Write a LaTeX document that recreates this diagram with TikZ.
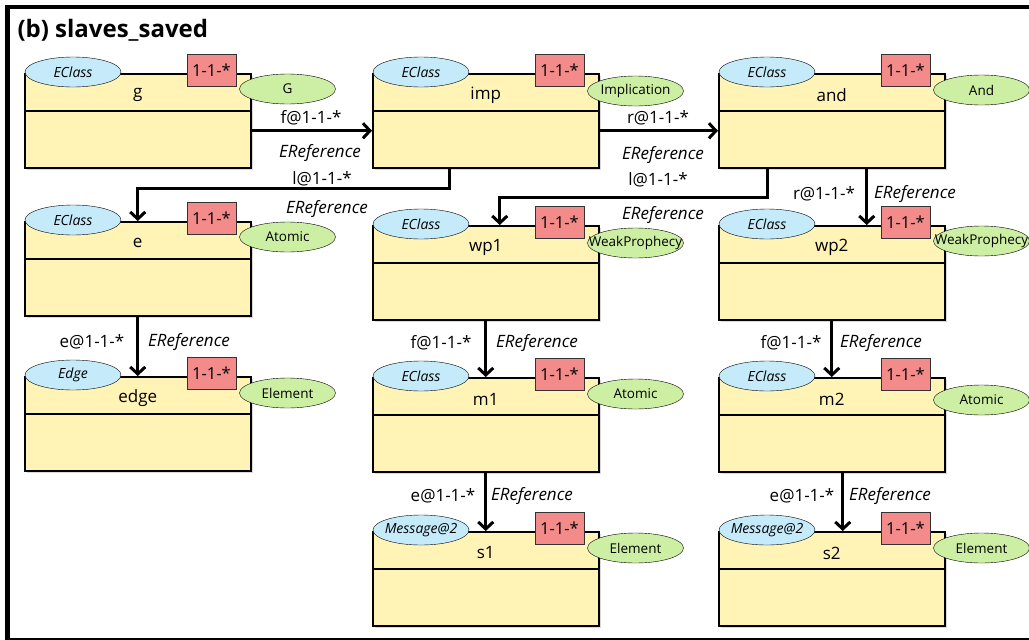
\documentclass[tikz,border=0pt]{standalone}
\usepackage{fontspec}
\setmainfont{Open Sans}
\usetikzlibrary{positioning, arrows.meta, calc, shapes.geometric, shadows}
\definecolor{boxfill}{HTML}{FFF3B5}
\definecolor{typefill}{HTML}{C5EBFB}
\definecolor{multfill}{HTML}{F28B89}
\definecolor{rolefill}{HTML}{CDEFA4}

% one class box: id, x, y, name, type, role, role offset
\newcommand{\eclassbox}[7]{%
  \node[cls] (#1) at (#2,#3) {};
  \draw[line width=1.5pt] ($(#1.north west)+(0,38)$) -- ($(#1.north east)+(0,38)$);
  \node[clsname] (#1-name) at ($(#1.north)+(0,22)$) {#4};
  \node[typetag] (#1-type) at ($(#1.north west)+(49,-1)$) {#5};
  \node[mult] (#1-mult) at ($(#1.north west)+(187.5,-3)$) {1-1-*};
  \node[roletag] (#1-role) at ($(#1.north east)+(36,#7)$) {#6};
}

\begin{document}
\begin{tikzpicture}[
    x=1pt, y=-1pt,
    cls/.style={rectangle, draw, line width=1.5pt, fill=boxfill, anchor=north west,
                minimum width=226pt, minimum height=94pt, inner sep=0pt,
                drop shadow={shadow xshift=2.5pt, shadow yshift=-2.5pt, fill=black!25, opacity=.6}},
    clsname/.style={font=\fontsize{17}{20}\selectfont},
    typetag/.style={ellipse, draw, fill=typefill, minimum width=96pt, minimum height=30pt,
                    inner xsep=-8pt, inner ysep=0pt, font=\fontsize{14}{16}\selectfont\itshape},
    mult/.style={rectangle, draw=black!80, fill=multfill, minimum width=49pt, minimum height=32pt,
                 inner sep=0pt, font=\fontsize{16.5}{18}\selectfont},
    roletag/.style={ellipse, draw, fill=rolefill, minimum width=96pt, minimum height=30pt,
                    inner xsep=-18pt, inner ysep=0pt, font=\fontsize{13.5}{15}\selectfont},
    ref/.style={line width=3pt, -{Straight Barb[length=7pt, width=15pt]}},
    lbl/.style={font=\fontsize{17}{20}\selectfont},
    reflbl/.style={font=\fontsize{17}{20}\selectfont\itshape}
  ]
    \useasboundingbox (0,0) rectangle (1029,640);
    \clip (0,0) rectangle (1029,640);
    \draw[line width=4.5pt] (7.5,7) rectangle (1040,640);
    \node[font=\fontsize{24}{28}\selectfont\bfseries, anchor=west] (title) at (14,30) {(b) slaves\_saved};

    \eclassbox{g}{24}{73}{g}{EClass}{G}{16}
    \eclassbox{imp}{372}{73}{imp}{EClass}{Implication}{18}
    \eclassbox{and}{718}{73}{and}{EClass}{And}{17}
    \eclassbox{e}{24}{221}{e}{EClass}{Atomic}{16}
    \eclassbox{wp1}{372}{225}{wp1}{EClass}{WeakProphecy}{18}
    \eclassbox{wp2}{718}{225}{wp2}{EClass}{WeakProphecy}{16}
    \eclassbox{edge}{24}{376}{edge}{Edge}{Element}{17}
    \eclassbox{m1}{372}{377}{m1}{EClass}{Atomic}{17}
    \eclassbox{m2}{718}{377}{m2}{EClass}{Atomic}{23}
    \eclassbox{s1}{372}{531}{s1}{Message@2}{Element}{17}
    \eclassbox{s2}{718}{531}{s2}{Message@2}{Element}{17}

    \draw[ref] ([yshift=-10pt]g.east) -- ([yshift=-10pt]imp.west);
    \draw[ref] ([yshift=-10pt]imp.east) -- ([yshift=-10pt]and.west);
    \draw[ref] ([xshift=-36pt]imp.south) -- ++(0,20) -| (e.north);
    \draw[ref] ([xshift=-64pt]and.south) -- ++(0,29) -| ([xshift=14pt]wp1.north);
    \draw[ref] ([xshift=35pt]and.south) -- ([xshift=35pt]wp2.north);
    \draw[ref] (e.south) -- (edge.north);
    \draw[ref] (wp1.south) -- (m1.north);
    \draw[ref] (wp2.south) -- (m2.north);
    \draw[ref] (m1.south) -- (s1.north);
    \draw[ref] ([xshift=11pt]m2.south) -- ([xshift=11pt]s2.north);

    \node[lbl] (l-gf) at (311,118) {f@1-1-*};
    \node[reflbl] (r-gf) at (320,153) {EReference};
    \node[lbl] (l-il) at (322,179) {l@1-1-*};
    \node[reflbl] (r-il) at (327,209) {EReference};
    \node[lbl] (l-ir) at (658,118) {r@1-1-*};
    \node[reflbl] (r-ir) at (663,155) {EReference};
    \node[lbl] (l-al) at (658,180) {l@1-1-*};
    \node[reflbl] (r-al) at (663,215) {EReference};
    \node[lbl] (l-ar) at (824,194) {r@1-1-*};
    \node[reflbl] (r-ar) at (915,194) {EReference};
    \node[lbl] (l-ee) at (92,342) {e@1-1-*};
    \node[reflbl] (r-ee) at (189,342) {EReference};
    \node[lbl] (l-wf1) at (441,343) {f@1-1-*};
    \node[reflbl] (r-wf1) at (537,343) {EReference};
    \node[lbl] (l-wf2) at (791,343) {f@1-1-*};
    \node[reflbl] (r-wf2) at (881,343) {EReference};
    \node[lbl] (l-me1) at (443,496) {e@1-1-*};
    \node[reflbl] (r-me1) at (532,496) {EReference};
    \node[lbl] (l-me2) at (802,496) {e@1-1-*};
    \node[reflbl] (r-me2) at (890,496) {EReference};
\end{tikzpicture}
\end{document}
